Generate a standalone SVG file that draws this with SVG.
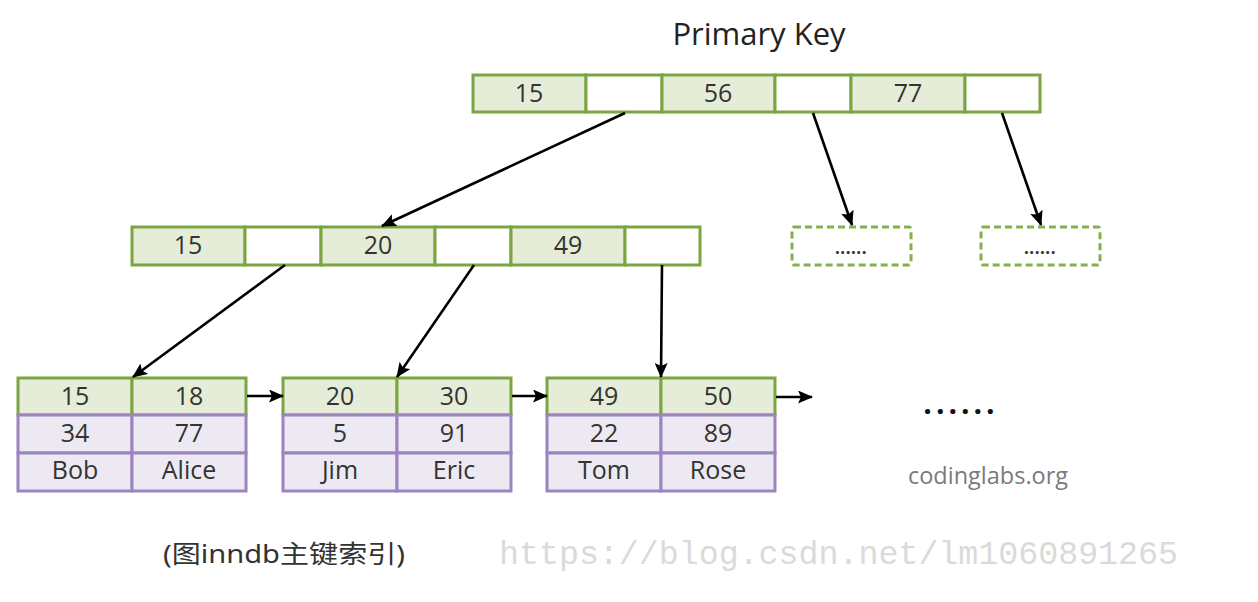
<svg xmlns="http://www.w3.org/2000/svg" width="1258" height="602" viewBox="0 0 1258 602">
<style>
.k{fill:#e5edd8;stroke:#7aa540;stroke-width:3}
.p{fill:#ffffff;stroke:#7aa540;stroke-width:3}
.d{fill:#ece9f2;stroke:#9c84bf;stroke-width:3}
.dash{fill:#ffffff;stroke:#86b04c;stroke-width:3;stroke-dasharray:7 4}
.t{font-family:"Open Sans","Noto Sans",sans-serif;font-size:25px;fill:#333;text-anchor:middle}
.c{stroke:#000;stroke-width:2.6;fill:none;marker-end:url(#ah)}
</style>
<defs>
<marker id="ah" viewBox="0 0 15 13" refX="14" refY="6.5" markerWidth="15" markerHeight="13" markerUnits="userSpaceOnUse" orient="auto">
<path d="M0,0 L15,6.5 L0,13 L3,6.5 Z" fill="#000"/>
</marker>
</defs>
<rect width="1258" height="602" fill="#fff"/>
<text x="759" y="45" class="t" style="font-size:31px;fill:#222">Primary Key</text>

<g id="root">
<rect class="k" x="473" y="75" width="113" height="37"/>
<rect class="p" x="586" y="75" width="76" height="37"/>
<rect class="k" x="662" y="75" width="113" height="37"/>
<rect class="p" x="775" y="75" width="76" height="37"/>
<rect class="k" x="851" y="75" width="114" height="37"/>
<rect class="p" x="965" y="75" width="75" height="37"/>
<text class="t" x="529" y="102">15</text>
<text class="t" x="718" y="102">56</text>
<text class="t" x="908" y="102">77</text>
</g>

<g id="mid">
<rect class="k" x="132" y="227" width="113" height="38"/>
<rect class="p" x="245" y="227" width="76" height="38"/>
<rect class="k" x="321" y="227" width="114" height="38"/>
<rect class="p" x="435" y="227" width="76" height="38"/>
<rect class="k" x="511" y="227" width="114" height="38"/>
<rect class="p" x="625" y="227" width="75" height="38"/>
<text class="t" x="188" y="254">15</text>
<text class="t" x="378" y="254">20</text>
<text class="t" x="568" y="254">49</text>
</g>

<g id="more1">
<rect class="dash" x="792" y="227" width="119" height="38" rx="2"/>
<text class="t" x="851" y="254" style="font-size:17px;font-weight:bold;letter-spacing:0.5px">......</text>
</g>
<g id="more2">
<rect class="dash" x="981" y="227" width="119" height="38" rx="2"/>
<text class="t" x="1040" y="254" style="font-size:17px;font-weight:bold;letter-spacing:0.5px">......</text>
</g>

<g id="leaf1">
<rect class="k" x="18" y="378" width="114" height="37"/>
<rect class="k" x="132" y="378" width="114" height="37"/>
<rect class="d" x="18" y="415" width="114" height="38"/>
<rect class="d" x="132" y="415" width="114" height="38"/>
<rect class="d" x="18" y="453" width="114" height="38"/>
<rect class="d" x="132" y="453" width="114" height="38"/>
<text class="t" x="75" y="405">15</text>
<text class="t" x="189" y="405">18</text>
<text class="t" x="75" y="442">34</text>
<text class="t" x="189" y="442">77</text>
<text class="t" x="75" y="479">Bob</text>
<text class="t" x="189" y="479">Alice</text>
</g>

<g id="leaf2">
<rect class="k" x="283" y="378" width="114" height="37"/>
<rect class="k" x="397" y="378" width="114" height="37"/>
<rect class="d" x="283" y="415" width="114" height="38"/>
<rect class="d" x="397" y="415" width="114" height="38"/>
<rect class="d" x="283" y="453" width="114" height="38"/>
<rect class="d" x="397" y="453" width="114" height="38"/>
<text class="t" x="340" y="405">20</text>
<text class="t" x="454" y="405">30</text>
<text class="t" x="340" y="442">5</text>
<text class="t" x="454" y="442">91</text>
<text class="t" x="340" y="479">Jim</text>
<text class="t" x="454" y="479">Eric</text>
</g>

<g id="leaf3">
<rect class="k" x="547" y="378" width="114" height="37"/>
<rect class="k" x="661" y="378" width="114" height="37"/>
<rect class="d" x="547" y="415" width="114" height="38"/>
<rect class="d" x="661" y="415" width="114" height="38"/>
<rect class="d" x="547" y="453" width="114" height="38"/>
<rect class="d" x="661" y="453" width="114" height="38"/>
<text class="t" x="604" y="405">49</text>
<text class="t" x="718" y="405">50</text>
<text class="t" x="604" y="442">22</text>
<text class="t" x="718" y="442">89</text>
<text class="t" x="604" y="479">Tom</text>
<text class="t" x="718" y="479">Rose</text>
</g>

<g id="connectors">
<line class="c" x1="625" y1="113" x2="382" y2="226"/>
<line class="c" x1="813" y1="113" x2="852" y2="225"/>
<line class="c" x1="1002" y1="113" x2="1041" y2="225"/>
<line class="c" x1="285" y1="265" x2="133" y2="377"/>
<line class="c" x1="474" y1="265" x2="397" y2="377"/>
<line class="c" x1="662" y1="265" x2="661" y2="377"/>
<line class="c" x1="247" y1="396" x2="283" y2="396"/>
<line class="c" x1="512" y1="396" x2="547" y2="396"/>
<line class="c" x1="776" y1="397" x2="812" y2="397"/>
</g>

<text class="t" x="961" y="414" style="font-size:30px;font-weight:bold;fill:#111;letter-spacing:4px">......</text>
<text class="t" x="988" y="484" style="font-size:23.5px;fill:#7a7a7a">codinglabs.org</text>
<text x="163" y="563" style="font-family:'Noto Sans','Noto Sans CJK SC',sans-serif;font-size:25px;fill:#333" textLength="242" lengthAdjust="spacingAndGlyphs">(图inndb主键索引)</text>
<text x="499" y="564" style="font-family:'Liberation Mono',monospace;font-size:33px;fill:#dadada" textLength="679" lengthAdjust="spacingAndGlyphs">https://blog.csdn.net/lm1060891265</text>
</svg>
